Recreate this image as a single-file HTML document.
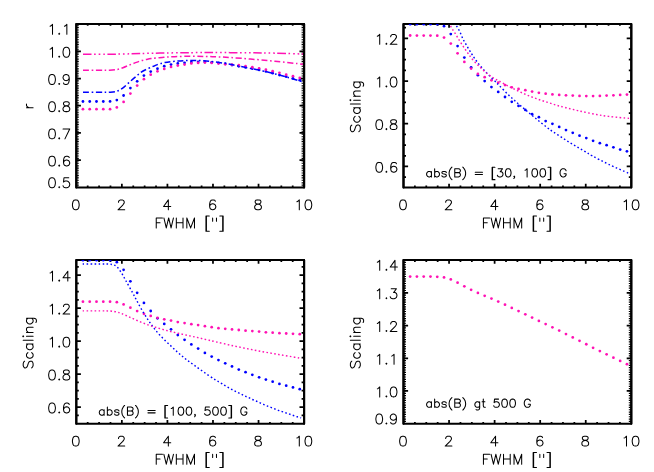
<!DOCTYPE html>
<html><head><meta charset="utf-8"><title>plot</title><style>html,body{margin:0;padding:0;background:#fff;font-family:"Liberation Sans",sans-serif}svg{display:block}</style></head><body>
<svg width="654" height="472" viewBox="0 0 654 472">
<rect width="654" height="472" fill="#fff"/>
<defs>
<clipPath id="c1"><rect x="76.30" y="24.05" width="227.80" height="163.35"/></clipPath>
<clipPath id="c2"><rect x="403.50" y="24.05" width="227.80" height="163.35"/></clipPath>
<clipPath id="c3"><rect x="76.30" y="260.10" width="227.80" height="163.60"/></clipPath>
<clipPath id="c4"><rect x="403.50" y="260.10" width="227.80" height="163.60"/></clipPath>
</defs>
<path d="M87.69 187.40V185.60M87.69 24.05V25.85M99.08 187.40V185.60M99.08 24.05V25.85M110.47 187.40V185.60M110.47 24.05V25.85M121.86 187.40V183.75M121.86 24.05V27.70M133.25 187.40V185.60M133.25 24.05V25.85M144.64 187.40V185.60M144.64 24.05V25.85M156.03 187.40V185.60M156.03 24.05V25.85M167.42 187.40V183.75M167.42 24.05V27.70M178.81 187.40V185.60M178.81 24.05V25.85M190.20 187.40V185.60M190.20 24.05V25.85M201.59 187.40V185.60M201.59 24.05V25.85M212.98 187.40V183.75M212.98 24.05V27.70M224.37 187.40V185.60M224.37 24.05V25.85M235.76 187.40V185.60M235.76 24.05V25.85M247.15 187.40V185.60M247.15 24.05V25.85M258.54 187.40V183.75M258.54 24.05V27.70M269.93 187.40V185.60M269.93 24.05V25.85M281.32 187.40V185.60M281.32 24.05V25.85M292.71 187.40V185.60M292.71 24.05V25.85M76.30 51.27H80.90M304.10 51.27H299.50M76.30 78.50H80.90M304.10 78.50H299.50M76.30 105.72H80.90M304.10 105.72H299.50M76.30 132.95H80.90M304.10 132.95H299.50M76.30 160.18H80.90M304.10 160.18H299.50" fill="none" stroke="#000" stroke-width="1.75"/>
<path d="M77.55 24.05V187.40M302.85 24.05V187.40" fill="none" stroke="#000" stroke-width="2.50" stroke-dasharray="0.851 0.851" stroke-dashoffset="0.425"/>
<rect x="76.30" y="24.05" width="227.80" height="163.35" fill="none" stroke="#000" stroke-width="2.00" stroke-linejoin="round"/>
<path d="M76.30 24.05V187.40M304.10 24.05V187.40" fill="none" stroke="#000" stroke-width="2.10" stroke-linecap="round"/>
<path d="M75.32 199.89L73.89 200.36L72.93 201.78L72.45 204.14L72.45 205.55L72.93 207.91L73.89 209.33L75.32 209.80L76.28 209.80L77.71 209.33L78.67 207.91L79.15 205.55L79.15 204.14L78.67 201.78L77.71 200.36L76.28 199.89L75.32 199.89" fill="none" stroke="#000" stroke-width="1.03" stroke-linecap="round" stroke-linejoin="round"/>
<path d="M118.49 202.25L118.49 201.78L118.97 200.83L119.45 200.36L120.40 199.89L122.32 199.89L123.27 200.36L123.75 200.83L124.23 201.78L124.23 202.72L123.75 203.66L122.79 205.08L118.01 209.80L124.71 209.80" fill="none" stroke="#000" stroke-width="1.03" stroke-linecap="round" stroke-linejoin="round"/>
<path d="M168.35 199.89L163.57 206.50L170.74 206.50M168.35 199.89L168.35 209.80" fill="none" stroke="#000" stroke-width="1.03" stroke-linecap="round" stroke-linejoin="round"/>
<path d="M215.35 201.30L214.87 200.36L213.44 199.89L212.48 199.89L211.05 200.36L210.09 201.78L209.61 204.14L209.61 206.50L210.09 208.38L211.05 209.33L212.48 209.80L212.96 209.80L214.39 209.33L215.35 208.38L215.83 206.97L215.83 206.50L215.35 205.08L214.39 204.14L212.96 203.66L212.48 203.66L211.05 204.14L210.09 205.08L209.61 206.50" fill="none" stroke="#000" stroke-width="1.03" stroke-linecap="round" stroke-linejoin="round"/>
<path d="M257.08 199.89L255.65 200.36L255.17 201.30L255.17 202.25L255.65 203.19L256.61 203.66L258.52 204.14L259.95 204.61L260.91 205.55L261.39 206.50L261.39 207.91L260.91 208.86L260.43 209.33L259.00 209.80L257.08 209.80L255.65 209.33L255.17 208.86L254.69 207.91L254.69 206.50L255.17 205.55L256.13 204.61L257.56 204.14L259.47 203.66L260.43 203.19L260.91 202.25L260.91 201.30L260.43 200.36L259.00 199.89L257.08 199.89" fill="none" stroke="#000" stroke-width="1.03" stroke-linecap="round" stroke-linejoin="round"/>
<path d="M296.91 201.78L297.86 201.30L299.30 199.89L299.30 209.80M307.90 199.89L306.47 200.36L305.51 201.78L305.03 204.14L305.03 205.55L305.51 207.91L306.47 209.33L307.90 209.80L308.86 209.80L310.29 209.33L311.25 207.91L311.73 205.55L311.73 204.14L311.25 201.78L310.29 200.36L308.86 199.89L307.90 199.89" fill="none" stroke="#000" stroke-width="1.03" stroke-linecap="round" stroke-linejoin="round"/>
<path d="M156.24 217.99L156.24 227.90M156.24 217.99L162.45 217.99M156.24 222.71L160.06 222.71M163.89 217.99L166.28 227.90M168.67 217.99L166.28 227.90M168.67 217.99L171.06 227.90M173.45 217.99L171.06 227.90M176.32 217.99L176.32 227.90M183.01 217.99L183.01 227.90M176.32 222.71L183.01 222.71M186.83 217.99L186.83 227.90M186.83 217.99L190.66 227.90M194.48 217.99L190.66 227.90M194.48 217.99L194.48 227.90M205.95 216.10L205.95 231.20M206.43 216.10L206.43 231.20M205.95 216.10L209.30 216.10M205.95 231.20L209.30 231.20M212.64 217.99L212.64 221.29M216.47 217.99L216.47 221.29M222.68 216.10L222.68 231.20M223.16 216.10L223.16 231.20M219.81 216.10L223.16 216.10M219.81 231.20L223.16 231.20" fill="none" stroke="#000" stroke-width="1.03" stroke-linecap="round" stroke-linejoin="round"/>
<path d="M50.12 26.24L51.07 25.77L52.51 24.35L52.51 34.26M59.20 33.32L58.72 33.79L59.20 34.26L59.68 33.79L59.20 33.32M64.46 26.24L65.41 25.77L66.85 24.35L66.85 34.26" fill="none" stroke="#000" stroke-width="1.03" stroke-linecap="round" stroke-linejoin="round"/>
<path d="M50.12 49.15L51.07 48.68L52.51 47.26L52.51 57.17M59.20 56.23L58.72 56.70L59.20 57.17L59.68 56.70L59.20 56.23M65.89 47.26L64.46 47.73L63.50 49.15L63.02 51.51L63.02 52.93L63.50 55.29L64.46 56.70L65.89 57.17L66.85 57.17L68.28 56.70L69.24 55.29L69.72 52.93L69.72 51.51L69.24 49.15L68.28 47.73L66.85 47.26L65.89 47.26" fill="none" stroke="#000" stroke-width="1.03" stroke-linecap="round" stroke-linejoin="round"/>
<path d="M51.55 74.49L50.12 74.96L49.16 76.38L48.68 78.74L48.68 80.15L49.16 82.51L50.12 83.93L51.55 84.40L52.51 84.40L53.94 83.93L54.90 82.51L55.38 80.15L55.38 78.74L54.90 76.38L53.94 74.96L52.51 74.49L51.55 74.49M59.20 83.46L58.72 83.93L59.20 84.40L59.68 83.93L59.20 83.46M69.24 77.79L68.76 79.21L67.80 80.15L66.37 80.62L65.89 80.62L64.46 80.15L63.50 79.21L63.02 77.79L63.02 77.32L63.50 75.90L64.46 74.96L65.89 74.49L66.37 74.49L67.80 74.96L68.76 75.90L69.24 77.79L69.24 80.15L68.76 82.51L67.80 83.93L66.37 84.40L65.41 84.40L63.98 83.93L63.50 82.98" fill="none" stroke="#000" stroke-width="1.03" stroke-linecap="round" stroke-linejoin="round"/>
<path d="M51.55 101.71L50.12 102.19L49.16 103.60L48.68 105.96L48.68 107.38L49.16 109.74L50.12 111.15L51.55 111.62L52.51 111.62L53.94 111.15L54.90 109.74L55.38 107.38L55.38 105.96L54.90 103.60L53.94 102.19L52.51 101.71L51.55 101.71M59.20 110.68L58.72 111.15L59.20 111.62L59.68 111.15L59.20 110.68M65.41 101.71L63.98 102.19L63.50 103.13L63.50 104.07L63.98 105.02L64.94 105.49L66.85 105.96L68.28 106.43L69.24 107.38L69.72 108.32L69.72 109.74L69.24 110.68L68.76 111.15L67.33 111.62L65.41 111.62L63.98 111.15L63.50 110.68L63.02 109.74L63.02 108.32L63.50 107.38L64.46 106.43L65.89 105.96L67.80 105.49L68.76 105.02L69.24 104.07L69.24 103.13L68.76 102.19L67.33 101.71L65.41 101.71" fill="none" stroke="#000" stroke-width="1.03" stroke-linecap="round" stroke-linejoin="round"/>
<path d="M51.55 128.94L50.12 129.41L49.16 130.83L48.68 133.19L48.68 134.60L49.16 136.96L50.12 138.38L51.55 138.85L52.51 138.85L53.94 138.38L54.90 136.96L55.38 134.60L55.38 133.19L54.90 130.83L53.94 129.41L52.51 128.94L51.55 128.94M59.20 137.91L58.72 138.38L59.20 138.85L59.68 138.38L59.20 137.91M69.72 128.94L64.94 138.85M63.02 128.94L69.72 128.94" fill="none" stroke="#000" stroke-width="1.03" stroke-linecap="round" stroke-linejoin="round"/>
<path d="M51.55 156.16L50.12 156.64L49.16 158.05L48.68 160.41L48.68 161.83L49.16 164.19L50.12 165.60L51.55 166.08L52.51 166.08L53.94 165.60L54.90 164.19L55.38 161.83L55.38 160.41L54.90 158.05L53.94 156.64L52.51 156.16L51.55 156.16M59.20 165.13L58.72 165.60L59.20 166.08L59.68 165.60L59.20 165.13M69.24 157.58L68.76 156.64L67.33 156.16L66.37 156.16L64.94 156.64L63.98 158.05L63.50 160.41L63.50 162.77L63.98 164.66L64.94 165.60L66.37 166.08L66.85 166.08L68.28 165.60L69.24 164.66L69.72 163.24L69.72 162.77L69.24 161.36L68.28 160.41L66.85 159.94L66.37 159.94L64.94 160.41L63.98 161.36L63.50 162.77" fill="none" stroke="#000" stroke-width="1.03" stroke-linecap="round" stroke-linejoin="round"/>
<path d="M51.55 177.79L50.12 178.26L49.16 179.68L48.68 182.04L48.68 183.45L49.16 185.81L50.12 187.23L51.55 187.70L52.51 187.70L53.94 187.23L54.90 185.81L55.38 183.45L55.38 182.04L54.90 179.68L53.94 178.26L52.51 177.79L51.55 177.79M59.20 186.76L58.72 187.23L59.20 187.70L59.68 187.23L59.20 186.76M68.76 177.79L63.98 177.79L63.50 182.04L63.98 181.56L65.41 181.09L66.85 181.09L68.28 181.56L69.24 182.51L69.72 183.92L69.72 184.87L69.24 186.28L68.28 187.23L66.85 187.70L65.41 187.70L63.98 187.23L63.50 186.76L63.02 185.81" fill="none" stroke="#000" stroke-width="1.03" stroke-linecap="round" stroke-linejoin="round"/>
<path d="M26.49 107.82L33.10 107.82M29.32 107.82L27.91 107.34L26.96 106.39L26.49 105.43L26.49 104.00" fill="none" stroke="#000" stroke-width="1.03" stroke-linecap="round" stroke-linejoin="round"/>
<g fill="#0000ff"><circle cx="82.95" cy="101.50" r="1.38"/><circle cx="89.73" cy="101.50" r="1.38"/><circle cx="96.50" cy="101.50" r="1.38"/><circle cx="103.28" cy="101.50" r="1.38"/><circle cx="110.05" cy="101.49" r="1.38"/><circle cx="116.83" cy="100.02" r="1.38"/><circle cx="123.60" cy="95.50" r="1.38"/><circle cx="130.38" cy="88.12" r="1.38"/><circle cx="137.15" cy="81.26" r="1.38"/><circle cx="143.93" cy="75.53" r="1.38"/><circle cx="150.70" cy="71.56" r="1.38"/><circle cx="157.48" cy="68.65" r="1.38"/><circle cx="164.25" cy="66.22" r="1.38"/><circle cx="171.03" cy="64.60" r="1.38"/><circle cx="177.80" cy="63.50" r="1.38"/><circle cx="184.57" cy="62.79" r="1.38"/><circle cx="191.35" cy="62.10" r="1.38"/><circle cx="198.12" cy="61.90" r="1.38"/><circle cx="204.90" cy="61.91" r="1.38"/><circle cx="211.68" cy="62.32" r="1.38"/><circle cx="218.45" cy="62.92" r="1.38"/><circle cx="225.23" cy="63.75" r="1.38"/><circle cx="232.00" cy="65.09" r="1.38"/><circle cx="238.78" cy="66.29" r="1.38"/><circle cx="245.55" cy="67.39" r="1.38"/><circle cx="252.32" cy="68.68" r="1.38"/><circle cx="259.10" cy="69.96" r="1.38"/><circle cx="265.88" cy="71.42" r="1.38"/><circle cx="272.65" cy="73.24" r="1.38"/><circle cx="279.43" cy="75.05" r="1.38"/><circle cx="286.20" cy="76.65" r="1.38"/><circle cx="292.98" cy="78.47" r="1.38"/><circle cx="299.75" cy="80.14" r="1.38"/></g>
<g fill="#ff12b4"><circle cx="82.95" cy="109.20" r="1.38"/><circle cx="89.73" cy="109.20" r="1.38"/><circle cx="96.50" cy="109.20" r="1.38"/><circle cx="103.28" cy="109.20" r="1.38"/><circle cx="110.05" cy="109.19" r="1.38"/><circle cx="116.83" cy="107.40" r="1.38"/><circle cx="123.60" cy="101.90" r="1.38"/><circle cx="130.38" cy="93.51" r="1.38"/><circle cx="137.15" cy="85.55" r="1.38"/><circle cx="143.93" cy="79.22" r="1.38"/><circle cx="150.70" cy="74.65" r="1.38"/><circle cx="157.48" cy="71.36" r="1.38"/><circle cx="164.25" cy="68.92" r="1.38"/><circle cx="171.03" cy="66.99" r="1.38"/><circle cx="177.80" cy="65.60" r="1.38"/><circle cx="184.57" cy="64.59" r="1.38"/><circle cx="191.35" cy="63.49" r="1.38"/><circle cx="198.12" cy="62.89" r="1.38"/><circle cx="204.90" cy="62.51" r="1.38"/><circle cx="211.68" cy="62.92" r="1.38"/><circle cx="218.45" cy="63.52" r="1.38"/><circle cx="225.23" cy="64.31" r="1.38"/><circle cx="232.00" cy="64.73" r="1.38"/><circle cx="238.78" cy="65.21" r="1.38"/><circle cx="245.55" cy="66.21" r="1.38"/><circle cx="252.32" cy="67.25" r="1.38"/><circle cx="259.10" cy="68.36" r="1.38"/><circle cx="265.88" cy="69.72" r="1.38"/><circle cx="272.65" cy="71.24" r="1.38"/><circle cx="279.43" cy="72.86" r="1.38"/><circle cx="286.20" cy="74.64" r="1.38"/><circle cx="292.98" cy="76.18" r="1.38"/><circle cx="299.75" cy="78.00" r="1.38"/></g>
<path d="M83.00 92.30C85.83 92.30 95.57 92.32 100.00 92.30C104.43 92.28 106.77 92.38 109.60 92.20C112.43 92.02 114.77 91.93 117.00 91.20C119.23 90.47 121.02 89.23 123.00 87.80C124.98 86.37 126.92 84.33 128.90 82.60C130.88 80.87 132.92 79.08 134.90 77.40C136.88 75.72 138.83 73.87 140.80 72.50C142.77 71.13 144.60 70.23 146.70 69.20C148.80 68.17 151.63 67.07 153.40 66.30C155.17 65.53 155.42 65.22 157.30 64.60C159.18 63.98 161.83 63.15 164.70 62.60C167.57 62.05 171.23 61.63 174.50 61.30C177.77 60.97 181.05 60.75 184.30 60.60C187.55 60.45 190.75 60.38 194.00 60.40C197.25 60.42 200.53 60.48 203.80 60.70C207.07 60.92 210.33 61.30 213.60 61.70C216.87 62.10 220.67 62.68 223.40 63.10C226.13 63.52 227.53 63.72 230.00 64.20C232.47 64.68 234.78 65.30 238.20 66.00C241.62 66.70 246.42 67.58 250.50 68.40C254.58 69.22 258.63 69.98 262.70 70.90C266.77 71.82 270.82 72.85 274.90 73.90C278.98 74.95 283.12 76.03 287.20 77.20C291.28 78.37 296.77 80.10 299.40 80.90C302.03 81.70 302.40 81.82 303.00 82.00" fill="none" stroke="#0000ff" stroke-width="1.50" stroke-dasharray="6.0 2.65 1.6 2.65" stroke-dashoffset="0.00"/>
<path d="M83.00 70.20C85.83 70.20 95.57 70.18 100.00 70.20C104.43 70.22 106.77 70.42 109.60 70.30C112.43 70.18 114.77 69.93 117.00 69.50C119.23 69.07 121.02 68.42 123.00 67.70C124.98 66.98 126.92 66.00 128.90 65.20C130.88 64.40 132.92 63.63 134.90 62.90C136.88 62.17 138.83 61.38 140.80 60.80C142.77 60.22 144.97 59.77 146.70 59.40C148.43 59.03 148.62 58.92 151.20 58.60C153.78 58.28 158.32 57.78 162.20 57.45C166.08 57.12 169.80 56.84 174.50 56.65C179.20 56.46 185.32 56.32 190.40 56.30C195.48 56.27 200.52 56.41 205.00 56.50C209.48 56.59 213.13 56.68 217.30 56.85C221.47 57.02 224.47 57.13 230.00 57.50C235.53 57.87 243.02 58.43 250.50 59.05C257.98 59.67 266.15 60.34 274.90 61.20C283.65 62.06 298.32 63.70 303.00 64.20" fill="none" stroke="#ff12b4" stroke-width="1.50" stroke-dasharray="6.0 2.65 1.6 2.65" stroke-dashoffset="0.00"/>
<path d="M83.00 54.30C86.67 54.30 98.33 54.35 105.00 54.30C111.67 54.25 117.17 54.12 123.00 54.00C128.83 53.88 133.83 53.70 140.00 53.55C146.17 53.40 151.67 53.25 160.00 53.10C168.33 52.95 180.00 52.73 190.00 52.65C200.00 52.57 210.00 52.58 220.00 52.60C230.00 52.62 240.83 52.66 250.00 52.75C259.17 52.84 266.17 52.94 275.00 53.15C283.83 53.36 298.33 53.86 303.00 54.00" fill="none" stroke="#ff12b4" stroke-width="1.50" stroke-dasharray="8.6 2.5 1.6 2.95 1.6 2.95 1.6 2.5" stroke-dashoffset="0.00"/>
<path d="M414.89 187.40V185.60M414.89 24.05V25.85M426.28 187.40V185.60M426.28 24.05V25.85M437.67 187.40V185.60M437.67 24.05V25.85M449.06 187.40V183.75M449.06 24.05V27.70M460.45 187.40V185.60M460.45 24.05V25.85M471.84 187.40V185.60M471.84 24.05V25.85M483.23 187.40V185.60M483.23 24.05V25.85M494.62 187.40V183.75M494.62 24.05V27.70M506.01 187.40V185.60M506.01 24.05V25.85M517.40 187.40V185.60M517.40 24.05V25.85M528.79 187.40V185.60M528.79 24.05V25.85M540.18 187.40V183.75M540.18 24.05V27.70M551.57 187.40V185.60M551.57 24.05V25.85M562.96 187.40V185.60M562.96 24.05V25.85M574.35 187.40V185.60M574.35 24.05V25.85M585.74 187.40V183.75M585.74 24.05V27.70M597.13 187.40V185.60M597.13 24.05V25.85M608.52 187.40V185.60M608.52 24.05V25.85M619.91 187.40V185.60M619.91 24.05V25.85M403.50 38.40H408.10M631.30 38.40H626.70M403.50 81.00H408.10M631.30 81.00H626.70M403.50 123.70H408.10M631.30 123.70H626.70M403.50 166.40H408.10M631.30 166.40H626.70M403.50 27.73H406.00M631.30 27.73H628.80M403.50 49.07H406.00M631.30 49.07H628.80M403.50 59.74H406.00M631.30 59.74H628.80M403.50 70.41H406.00M631.30 70.41H628.80M403.50 91.75H406.00M631.30 91.75H628.80M403.50 102.42H406.00M631.30 102.42H628.80M403.50 113.09H406.00M631.30 113.09H628.80M403.50 134.43H406.00M631.30 134.43H628.80M403.50 145.10H406.00M631.30 145.10H628.80M403.50 155.77H406.00M631.30 155.77H628.80M403.50 177.11H406.00M631.30 177.11H628.80" fill="none" stroke="#000" stroke-width="1.75"/>
<rect x="403.50" y="24.05" width="227.80" height="163.35" fill="none" stroke="#000" stroke-width="2.00" stroke-linejoin="round"/>
<path d="M403.50 24.05V187.40M631.30 24.05V187.40" fill="none" stroke="#000" stroke-width="2.10" stroke-linecap="round"/>
<path d="M402.52 199.89L401.09 200.36L400.13 201.78L399.65 204.14L399.65 205.55L400.13 207.91L401.09 209.33L402.52 209.80L403.48 209.80L404.91 209.33L405.87 207.91L406.35 205.55L406.35 204.14L405.87 201.78L404.91 200.36L403.48 199.89L402.52 199.89" fill="none" stroke="#000" stroke-width="1.03" stroke-linecap="round" stroke-linejoin="round"/>
<path d="M445.69 202.25L445.69 201.78L446.17 200.83L446.65 200.36L447.60 199.89L449.52 199.89L450.47 200.36L450.95 200.83L451.43 201.78L451.43 202.72L450.95 203.66L449.99 205.08L445.21 209.80L451.91 209.80" fill="none" stroke="#000" stroke-width="1.03" stroke-linecap="round" stroke-linejoin="round"/>
<path d="M495.55 199.89L490.77 206.50L497.94 206.50M495.55 199.89L495.55 209.80" fill="none" stroke="#000" stroke-width="1.03" stroke-linecap="round" stroke-linejoin="round"/>
<path d="M542.55 201.30L542.07 200.36L540.64 199.89L539.68 199.89L538.25 200.36L537.29 201.78L536.81 204.14L536.81 206.50L537.29 208.38L538.25 209.33L539.68 209.80L540.16 209.80L541.59 209.33L542.55 208.38L543.03 206.97L543.03 206.50L542.55 205.08L541.59 204.14L540.16 203.66L539.68 203.66L538.25 204.14L537.29 205.08L536.81 206.50" fill="none" stroke="#000" stroke-width="1.03" stroke-linecap="round" stroke-linejoin="round"/>
<path d="M584.28 199.89L582.85 200.36L582.37 201.30L582.37 202.25L582.85 203.19L583.81 203.66L585.72 204.14L587.15 204.61L588.11 205.55L588.59 206.50L588.59 207.91L588.11 208.86L587.63 209.33L586.20 209.80L584.28 209.80L582.85 209.33L582.37 208.86L581.89 207.91L581.89 206.50L582.37 205.55L583.33 204.61L584.76 204.14L586.67 203.66L587.63 203.19L588.11 202.25L588.11 201.30L587.63 200.36L586.20 199.89L584.28 199.89" fill="none" stroke="#000" stroke-width="1.03" stroke-linecap="round" stroke-linejoin="round"/>
<path d="M624.11 201.78L625.06 201.30L626.50 199.89L626.50 209.80M635.10 199.89L633.67 200.36L632.71 201.78L632.23 204.14L632.23 205.55L632.71 207.91L633.67 209.33L635.10 209.80L636.06 209.80L637.49 209.33L638.45 207.91L638.93 205.55L638.93 204.14L638.45 201.78L637.49 200.36L636.06 199.89L635.10 199.89" fill="none" stroke="#000" stroke-width="1.03" stroke-linecap="round" stroke-linejoin="round"/>
<path d="M483.44 217.99L483.44 227.90M483.44 217.99L489.65 217.99M483.44 222.71L487.26 222.71M491.09 217.99L493.48 227.90M495.87 217.99L493.48 227.90M495.87 217.99L498.26 227.90M500.65 217.99L498.26 227.90M503.52 217.99L503.52 227.90M510.21 217.99L510.21 227.90M503.52 222.71L510.21 222.71M514.03 217.99L514.03 227.90M514.03 217.99L517.86 227.90M521.68 217.99L517.86 227.90M521.68 217.99L521.68 227.90M533.15 216.10L533.15 231.20M533.63 216.10L533.63 231.20M533.15 216.10L536.50 216.10M533.15 231.20L536.50 231.20M539.84 217.99L539.84 221.29M543.67 217.99L543.67 221.29M549.88 216.10L549.88 231.20M550.36 216.10L550.36 231.20M547.01 216.10L550.36 216.10M547.01 231.20L550.36 231.20" fill="none" stroke="#000" stroke-width="1.03" stroke-linecap="round" stroke-linejoin="round"/>
<path d="M377.32 36.28L378.27 35.80L379.71 34.39L379.71 44.30M386.40 43.36L385.92 43.83L386.40 44.30L386.88 43.83L386.40 43.36M390.70 36.75L390.70 36.28L391.18 35.33L391.66 34.86L392.61 34.39L394.53 34.39L395.48 34.86L395.96 35.33L396.44 36.28L396.44 37.22L395.96 38.16L395.00 39.58L390.22 44.30L396.92 44.30" fill="none" stroke="#000" stroke-width="1.03" stroke-linecap="round" stroke-linejoin="round"/>
<path d="M377.32 78.88L378.27 78.40L379.71 76.99L379.71 86.90M386.40 85.96L385.92 86.43L386.40 86.90L386.88 86.43L386.40 85.96M393.09 76.99L391.66 77.46L390.70 78.88L390.22 81.24L390.22 82.65L390.70 85.01L391.66 86.43L393.09 86.90L394.05 86.90L395.48 86.43L396.44 85.01L396.92 82.65L396.92 81.24L396.44 78.88L395.48 77.46L394.05 76.99L393.09 76.99" fill="none" stroke="#000" stroke-width="1.03" stroke-linecap="round" stroke-linejoin="round"/>
<path d="M378.75 119.69L377.32 120.16L376.36 121.58L375.88 123.94L375.88 125.35L376.36 127.71L377.32 129.13L378.75 129.60L379.71 129.60L381.14 129.13L382.10 127.71L382.58 125.35L382.58 123.94L382.10 121.58L381.14 120.16L379.71 119.69L378.75 119.69M386.40 128.66L385.92 129.13L386.40 129.60L386.88 129.13L386.40 128.66M392.61 119.69L391.18 120.16L390.70 121.10L390.70 122.05L391.18 122.99L392.14 123.46L394.05 123.94L395.48 124.41L396.44 125.35L396.92 126.30L396.92 127.71L396.44 128.66L395.96 129.13L394.53 129.60L392.61 129.60L391.18 129.13L390.70 128.66L390.22 127.71L390.22 126.30L390.70 125.35L391.66 124.41L393.09 123.94L395.00 123.46L395.96 122.99L396.44 122.05L396.44 121.10L395.96 120.16L394.53 119.69L392.61 119.69" fill="none" stroke="#000" stroke-width="1.03" stroke-linecap="round" stroke-linejoin="round"/>
<path d="M378.75 162.39L377.32 162.86L376.36 164.28L375.88 166.64L375.88 168.05L376.36 170.41L377.32 171.83L378.75 172.30L379.71 172.30L381.14 171.83L382.10 170.41L382.58 168.05L382.58 166.64L382.10 164.28L381.14 162.86L379.71 162.39L378.75 162.39M386.40 171.36L385.92 171.83L386.40 172.30L386.88 171.83L386.40 171.36M396.44 163.80L395.96 162.86L394.53 162.39L393.57 162.39L392.14 162.86L391.18 164.28L390.70 166.64L390.70 169.00L391.18 170.88L392.14 171.83L393.57 172.30L394.05 172.30L395.48 171.83L396.44 170.88L396.92 169.47L396.92 169.00L396.44 167.58L395.48 166.64L394.05 166.16L393.57 166.16L392.14 166.64L391.18 167.58L390.70 169.00" fill="none" stroke="#000" stroke-width="1.03" stroke-linecap="round" stroke-linejoin="round"/>
<path d="M351.80 125.03L350.86 125.98L350.39 127.42L350.39 129.33L350.86 130.76L351.80 131.72L352.75 131.72L353.69 131.24L354.16 130.76L354.64 129.81L355.58 126.94L356.05 125.98L356.52 125.51L357.47 125.03L358.88 125.03L359.83 125.98L360.30 127.42L360.30 129.33L359.83 130.76L358.88 131.72M355.11 116.42L354.16 117.38L353.69 118.34L353.69 119.77L354.16 120.73L355.11 121.68L356.52 122.16L357.47 122.16L358.88 121.68L359.83 120.73L360.30 119.77L360.30 118.34L359.83 117.38L358.88 116.42M353.69 107.82L360.30 107.82M355.11 107.82L354.16 108.78L353.69 109.73L353.69 111.17L354.16 112.12L355.11 113.08L356.52 113.56L357.47 113.56L358.88 113.08L359.83 112.12L360.30 111.17L360.30 109.73L359.83 108.78L358.88 107.82M350.39 104.00L360.30 104.00M350.39 100.65L350.86 100.17L350.39 99.69L349.92 100.17L350.39 100.65M353.69 100.17L360.30 100.17M353.69 96.35L360.30 96.35M355.58 96.35L354.16 94.91L353.69 93.96L353.69 92.52L354.16 91.57L355.58 91.09L360.30 91.09M353.69 82.01L361.24 82.01L362.66 82.49L363.13 82.96L363.60 83.92L363.60 85.35L363.13 86.31M355.11 82.01L354.16 82.96L353.69 83.92L353.69 85.35L354.16 86.31L355.11 87.27L356.52 87.74L357.47 87.74L358.88 87.27L359.83 86.31L360.30 85.35L360.30 83.92L359.83 82.96L358.88 82.01" fill="none" stroke="#000" stroke-width="1.03" stroke-linecap="round" stroke-linejoin="round"/>
<g fill="#0000ff" clip-path="url(#c2)"><circle cx="410.15" cy="24.20" r="1.38"/><circle cx="416.92" cy="24.20" r="1.38"/><circle cx="423.70" cy="24.20" r="1.38"/><circle cx="430.47" cy="24.20" r="1.38"/><circle cx="437.25" cy="24.21" r="1.38"/><circle cx="444.02" cy="26.23" r="1.38"/><circle cx="450.80" cy="34.08" r="1.38"/><circle cx="457.57" cy="46.06" r="1.38"/><circle cx="464.35" cy="57.61" r="1.38"/><circle cx="471.12" cy="67.33" r="1.38"/><circle cx="477.90" cy="75.20" r="1.38"/><circle cx="484.67" cy="81.07" r="1.38"/><circle cx="491.45" cy="87.11" r="1.38"/><circle cx="498.22" cy="91.89" r="1.38"/><circle cx="505.00" cy="97.00" r="1.38"/><circle cx="511.77" cy="101.81" r="1.38"/><circle cx="518.55" cy="105.89" r="1.38"/><circle cx="525.33" cy="109.88" r="1.38"/><circle cx="532.10" cy="114.15" r="1.38"/><circle cx="538.88" cy="117.24" r="1.38"/><circle cx="545.65" cy="121.06" r="1.38"/><circle cx="552.42" cy="123.86" r="1.38"/><circle cx="559.20" cy="126.95" r="1.38"/><circle cx="565.98" cy="130.07" r="1.38"/><circle cx="572.75" cy="132.82" r="1.38"/><circle cx="579.52" cy="135.68" r="1.38"/><circle cx="586.30" cy="138.04" r="1.38"/><circle cx="593.08" cy="140.76" r="1.38"/><circle cx="599.85" cy="143.15" r="1.38"/><circle cx="606.62" cy="145.24" r="1.38"/><circle cx="613.40" cy="147.30" r="1.38"/><circle cx="620.17" cy="149.55" r="1.38"/><circle cx="626.95" cy="151.30" r="1.38"/></g>
<g fill="#ff12b4"><circle cx="410.15" cy="35.50" r="1.38"/><circle cx="416.92" cy="35.53" r="1.38"/><circle cx="423.70" cy="35.55" r="1.38"/><circle cx="430.47" cy="35.58" r="1.38"/><circle cx="437.25" cy="35.67" r="1.38"/><circle cx="444.02" cy="37.52" r="1.38"/><circle cx="450.80" cy="43.61" r="1.38"/><circle cx="457.57" cy="53.26" r="1.38"/><circle cx="464.35" cy="61.94" r="1.38"/><circle cx="471.12" cy="68.52" r="1.38"/><circle cx="477.90" cy="73.90" r="1.38"/><circle cx="484.67" cy="77.23" r="1.38"/><circle cx="491.45" cy="80.26" r="1.38"/><circle cx="498.22" cy="82.74" r="1.38"/><circle cx="505.00" cy="85.10" r="1.38"/><circle cx="511.77" cy="87.34" r="1.38"/><circle cx="518.55" cy="88.93" r="1.38"/><circle cx="525.33" cy="90.22" r="1.38"/><circle cx="532.10" cy="91.52" r="1.38"/><circle cx="538.88" cy="92.81" r="1.38"/><circle cx="545.65" cy="93.72" r="1.38"/><circle cx="552.42" cy="94.41" r="1.38"/><circle cx="559.20" cy="94.91" r="1.38"/><circle cx="565.98" cy="95.31" r="1.38"/><circle cx="572.75" cy="95.60" r="1.38"/><circle cx="579.52" cy="95.91" r="1.38"/><circle cx="586.30" cy="96.10" r="1.38"/><circle cx="593.08" cy="96.09" r="1.38"/><circle cx="599.85" cy="95.89" r="1.38"/><circle cx="606.62" cy="95.59" r="1.38"/><circle cx="613.40" cy="95.30" r="1.38"/><circle cx="620.17" cy="94.89" r="1.38"/><circle cx="626.95" cy="94.60" r="1.38"/></g>
<path d="M452.70 19.00C453.18 19.88 454.45 22.27 455.60 24.30C456.75 26.33 458.40 28.82 459.60 31.20C460.80 33.58 461.60 36.17 462.80 38.60C464.00 41.03 465.42 43.40 466.80 45.80C468.18 48.20 469.78 50.88 471.10 53.00C472.42 55.12 473.30 56.52 474.70 58.50C476.10 60.48 477.90 62.92 479.50 64.90C481.10 66.88 482.68 68.62 484.30 70.40C485.92 72.18 487.35 73.73 489.20 75.60C491.05 77.47 493.73 79.95 495.40 81.60C497.07 83.25 497.00 83.27 499.20 85.50C501.40 87.73 505.43 91.97 508.60 95.00C511.77 98.03 515.02 100.92 518.20 103.70C521.38 106.48 524.53 109.05 527.70 111.70C530.87 114.35 534.02 117.00 537.20 119.60C540.38 122.20 544.18 125.28 546.80 127.30C549.42 129.32 550.55 130.12 552.90 131.70C555.25 133.28 558.25 135.08 560.90 136.80C563.55 138.52 566.15 140.33 568.80 142.00C571.45 143.67 574.15 145.25 576.80 146.80C579.45 148.35 582.05 149.75 584.70 151.30C587.35 152.85 588.72 153.93 592.70 156.10C596.68 158.27 602.63 161.45 608.60 164.30C614.57 167.15 625.18 171.72 628.50 173.20" fill="none" stroke="#0000ff" stroke-width="1.42" stroke-dasharray="1.6 2.35" stroke-dashoffset="0.00" clip-path="url(#c2)"/>
<path d="M446.50 19.00C447.02 19.88 448.73 22.80 449.60 24.30C450.47 25.80 451.02 26.85 451.70 28.00C452.38 29.15 452.98 30.08 453.70 31.20C454.42 32.32 455.28 33.53 456.00 34.70C456.72 35.87 457.32 37.07 458.00 38.20C458.68 39.33 459.38 40.37 460.10 41.50C460.82 42.63 461.57 43.87 462.30 45.00C463.03 46.13 463.75 47.18 464.50 48.30C465.25 49.42 466.02 50.58 466.80 51.70C467.58 52.82 468.48 54.00 469.20 55.00C469.92 56.00 470.05 56.42 471.10 57.70C472.15 58.98 474.10 61.22 475.50 62.70C476.90 64.18 478.03 65.18 479.50 66.60C480.97 68.02 482.68 69.78 484.30 71.20C485.92 72.62 487.62 73.93 489.20 75.10C490.78 76.27 492.15 77.22 493.80 78.20C495.45 79.18 496.63 79.67 499.10 81.00C501.57 82.33 505.42 84.53 508.60 86.20C511.78 87.87 515.02 89.48 518.20 91.00C521.38 92.52 524.53 93.97 527.70 95.30C530.87 96.62 534.02 97.82 537.20 98.95C540.38 100.08 543.62 101.06 546.80 102.10C549.98 103.14 553.12 104.27 556.30 105.20C559.48 106.13 562.32 106.80 565.90 107.70C569.48 108.60 573.33 109.58 577.80 110.60C582.27 111.62 587.57 112.83 592.70 113.80C597.83 114.77 602.50 115.63 608.60 116.40C614.70 117.17 625.85 118.07 629.30 118.40" fill="none" stroke="#ff12b4" stroke-width="1.42" stroke-dasharray="1.6 2.35" stroke-dashoffset="0.00" clip-path="url(#c2)"/>
<path d="M431.43 171.44L431.43 176.90M431.43 172.61L430.63 171.83L429.82 171.44L428.62 171.44L427.81 171.83L427.01 172.61L426.61 173.78L426.61 174.56L427.01 175.73L427.81 176.51L428.62 176.90L429.82 176.90L430.63 176.51L431.43 175.73M434.65 168.71L434.65 176.90M434.65 172.61L435.45 171.83L436.25 171.44L437.46 171.44L438.26 171.83L439.07 172.61L439.47 173.78L439.47 174.56L439.07 175.73L438.26 176.51L437.46 176.90L436.25 176.90L435.45 176.51L434.65 175.73M446.30 172.61L445.90 171.83L444.70 171.44L443.49 171.44L442.28 171.83L441.88 172.61L442.28 173.39L443.09 173.78L445.10 174.17L445.90 174.56L446.30 175.34L446.30 175.73L445.90 176.51L444.70 176.90L443.49 176.90L442.28 176.51L441.88 175.73M451.93 167.15L451.13 167.93L450.32 169.10L449.52 170.66L449.12 172.61L449.12 174.17L449.52 176.12L450.32 177.68L451.13 178.85L451.93 179.63M454.75 168.71L454.75 176.90M454.75 168.71L458.36 168.71L459.57 169.10L459.97 169.49L460.37 170.27L460.37 171.05L459.97 171.83L459.57 172.22L458.36 172.61M454.75 172.61L458.36 172.61L459.57 173.00L459.97 173.39L460.37 174.17L460.37 175.34L459.97 176.12L459.57 176.51L458.36 176.90L454.75 176.90M462.79 167.15L463.59 167.93L464.39 169.10L465.20 170.66L465.60 172.61L465.60 174.17L465.20 176.12L464.39 177.68L463.59 178.85L462.79 179.63M475.25 172.22L482.48 172.22M475.25 174.56L482.48 174.56M492.13 167.15L492.13 179.63M492.53 167.15L492.53 179.63M492.13 167.15L494.95 167.15M492.13 179.63L494.95 179.63M498.16 168.71L502.58 168.71L500.17 171.83L501.38 171.83L502.18 172.22L502.58 172.61L502.99 173.78L502.99 174.56L502.58 175.73L501.78 176.51L500.57 176.90L499.37 176.90L498.16 176.51L497.76 176.12L497.36 175.34M507.81 168.71L506.60 169.10L505.80 170.27L505.40 172.22L505.40 173.39L505.80 175.34L506.60 176.51L507.81 176.90L508.61 176.90L509.82 176.51L510.62 175.34L511.03 173.39L511.03 172.22L510.62 170.27L509.82 169.10L508.61 168.71L507.81 168.71M514.64 176.51L514.24 176.90L513.84 176.51L514.24 176.12L514.64 176.51L514.64 177.29L514.24 178.07L513.84 178.46M525.10 170.27L525.90 169.88L527.11 168.71L527.11 176.90M534.34 168.71L533.14 169.10L532.33 170.27L531.93 172.22L531.93 173.39L532.33 175.34L533.14 176.51L534.34 176.90L535.15 176.90L536.35 176.51L537.16 175.34L537.56 173.39L537.56 172.22L537.16 170.27L536.35 169.10L535.15 168.71L534.34 168.71M542.38 168.71L541.18 169.10L540.37 170.27L539.97 172.22L539.97 173.39L540.37 175.34L541.18 176.51L542.38 176.90L543.19 176.90L544.39 176.51L545.20 175.34L545.60 173.39L545.60 172.22L545.20 170.27L544.39 169.10L543.19 168.71L542.38 168.71M550.42 167.15L550.42 179.63M550.82 167.15L550.82 179.63M548.01 167.15L550.82 167.15M548.01 179.63L550.82 179.63M566.10 170.66L565.70 169.88L564.89 169.10L564.09 168.71L562.48 168.71L561.68 169.10L560.87 169.88L560.47 170.66L560.07 171.83L560.07 173.78L560.47 174.95L560.87 175.73L561.68 176.51L562.48 176.90L564.09 176.90L564.89 176.51L565.70 175.73L566.10 174.95L566.10 173.78M564.09 173.78L566.10 173.78" fill="none" stroke="#000" stroke-width="1.05" stroke-linecap="round" stroke-linejoin="round"/>
<path d="M87.69 423.70V421.90M87.69 260.10V261.90M99.08 423.70V421.90M99.08 260.10V261.90M110.47 423.70V421.90M110.47 260.10V261.90M121.86 423.70V420.05M121.86 260.10V263.75M133.25 423.70V421.90M133.25 260.10V261.90M144.64 423.70V421.90M144.64 260.10V261.90M156.03 423.70V421.90M156.03 260.10V261.90M167.42 423.70V420.05M167.42 260.10V263.75M178.81 423.70V421.90M178.81 260.10V261.90M190.20 423.70V421.90M190.20 260.10V261.90M201.59 423.70V421.90M201.59 260.10V261.90M212.98 423.70V420.05M212.98 260.10V263.75M224.37 423.70V421.90M224.37 260.10V261.90M235.76 423.70V421.90M235.76 260.10V261.90M247.15 423.70V421.90M247.15 260.10V261.90M258.54 423.70V420.05M258.54 260.10V263.75M269.93 423.70V421.90M269.93 260.10V261.90M281.32 423.70V421.90M281.32 260.10V261.90M292.71 423.70V421.90M292.71 260.10V261.90M76.30 275.20H80.90M304.10 275.20H299.50M76.30 308.20H80.90M304.10 308.20H299.50M76.30 341.20H80.90M304.10 341.20H299.50M76.30 374.10H80.90M304.10 374.10H299.50M76.30 407.10H80.90M304.10 407.10H299.50M76.30 266.95H78.80M304.10 266.95H301.60M76.30 283.44H78.80M304.10 283.44H301.60M76.30 291.69H78.80M304.10 291.69H301.60M76.30 299.94H78.80M304.10 299.94H301.60M76.30 316.42H78.80M304.10 316.42H301.60M76.30 324.67H78.80M304.10 324.67H301.60M76.30 332.91H78.80M304.10 332.91H301.60M76.30 349.40H78.80M304.10 349.40H301.60M76.30 357.65H78.80M304.10 357.65H301.60M76.30 365.89H78.80M304.10 365.89H301.60M76.30 382.38H78.80M304.10 382.38H301.60M76.30 390.63H78.80M304.10 390.63H301.60M76.30 398.88H78.80M304.10 398.88H301.60M76.30 415.37H78.80M304.10 415.37H301.60" fill="none" stroke="#000" stroke-width="1.75"/>
<rect x="76.30" y="260.10" width="227.80" height="163.60" fill="none" stroke="#000" stroke-width="2.00" stroke-linejoin="round"/>
<path d="M76.30 260.10V423.70M304.10 260.10V423.70" fill="none" stroke="#000" stroke-width="2.10" stroke-linecap="round"/>
<path d="M75.32 436.19L73.89 436.66L72.93 438.08L72.45 440.44L72.45 441.85L72.93 444.21L73.89 445.63L75.32 446.10L76.28 446.10L77.71 445.63L78.67 444.21L79.15 441.85L79.15 440.44L78.67 438.08L77.71 436.66L76.28 436.19L75.32 436.19" fill="none" stroke="#000" stroke-width="1.03" stroke-linecap="round" stroke-linejoin="round"/>
<path d="M118.49 438.55L118.49 438.08L118.97 437.13L119.45 436.66L120.40 436.19L122.32 436.19L123.27 436.66L123.75 437.13L124.23 438.08L124.23 439.02L123.75 439.96L122.79 441.38L118.01 446.10L124.71 446.10" fill="none" stroke="#000" stroke-width="1.03" stroke-linecap="round" stroke-linejoin="round"/>
<path d="M168.35 436.19L163.57 442.80L170.74 442.80M168.35 436.19L168.35 446.10" fill="none" stroke="#000" stroke-width="1.03" stroke-linecap="round" stroke-linejoin="round"/>
<path d="M215.35 437.60L214.87 436.66L213.44 436.19L212.48 436.19L211.05 436.66L210.09 438.08L209.61 440.44L209.61 442.80L210.09 444.68L211.05 445.63L212.48 446.10L212.96 446.10L214.39 445.63L215.35 444.68L215.83 443.27L215.83 442.80L215.35 441.38L214.39 440.44L212.96 439.96L212.48 439.96L211.05 440.44L210.09 441.38L209.61 442.80" fill="none" stroke="#000" stroke-width="1.03" stroke-linecap="round" stroke-linejoin="round"/>
<path d="M257.08 436.19L255.65 436.66L255.17 437.60L255.17 438.55L255.65 439.49L256.61 439.96L258.52 440.44L259.95 440.91L260.91 441.85L261.39 442.80L261.39 444.21L260.91 445.16L260.43 445.63L259.00 446.10L257.08 446.10L255.65 445.63L255.17 445.16L254.69 444.21L254.69 442.80L255.17 441.85L256.13 440.91L257.56 440.44L259.47 439.96L260.43 439.49L260.91 438.55L260.91 437.60L260.43 436.66L259.00 436.19L257.08 436.19" fill="none" stroke="#000" stroke-width="1.03" stroke-linecap="round" stroke-linejoin="round"/>
<path d="M296.91 438.08L297.86 437.60L299.30 436.19L299.30 446.10M307.90 436.19L306.47 436.66L305.51 438.08L305.03 440.44L305.03 441.85L305.51 444.21L306.47 445.63L307.90 446.10L308.86 446.10L310.29 445.63L311.25 444.21L311.73 441.85L311.73 440.44L311.25 438.08L310.29 436.66L308.86 436.19L307.90 436.19" fill="none" stroke="#000" stroke-width="1.03" stroke-linecap="round" stroke-linejoin="round"/>
<path d="M156.24 454.29L156.24 464.20M156.24 454.29L162.45 454.29M156.24 459.01L160.06 459.01M163.89 454.29L166.28 464.20M168.67 454.29L166.28 464.20M168.67 454.29L171.06 464.20M173.45 454.29L171.06 464.20M176.32 454.29L176.32 464.20M183.01 454.29L183.01 464.20M176.32 459.01L183.01 459.01M186.83 454.29L186.83 464.20M186.83 454.29L190.66 464.20M194.48 454.29L190.66 464.20M194.48 454.29L194.48 464.20M205.95 452.40L205.95 467.50M206.43 452.40L206.43 467.50M205.95 452.40L209.30 452.40M205.95 467.50L209.30 467.50M212.64 454.29L212.64 457.59M216.47 454.29L216.47 457.59M222.68 452.40L222.68 467.50M223.16 452.40L223.16 467.50M219.81 452.40L223.16 452.40M219.81 467.50L223.16 467.50" fill="none" stroke="#000" stroke-width="1.03" stroke-linecap="round" stroke-linejoin="round"/>
<path d="M50.12 273.08L51.07 272.60L52.51 271.19L52.51 281.10M59.20 280.16L58.72 280.63L59.20 281.10L59.68 280.63L59.20 280.16M67.80 271.19L63.02 277.80L70.19 277.80M67.80 271.19L67.80 281.10" fill="none" stroke="#000" stroke-width="1.03" stroke-linecap="round" stroke-linejoin="round"/>
<path d="M50.12 306.08L51.07 305.60L52.51 304.19L52.51 314.10M59.20 313.16L58.72 313.63L59.20 314.10L59.68 313.63L59.20 313.16M63.50 306.55L63.50 306.08L63.98 305.13L64.46 304.66L65.41 304.19L67.33 304.19L68.28 304.66L68.76 305.13L69.24 306.08L69.24 307.02L68.76 307.96L67.80 309.38L63.02 314.10L69.72 314.10" fill="none" stroke="#000" stroke-width="1.03" stroke-linecap="round" stroke-linejoin="round"/>
<path d="M50.12 339.08L51.07 338.60L52.51 337.19L52.51 347.10M59.20 346.16L58.72 346.63L59.20 347.10L59.68 346.63L59.20 346.16M65.89 337.19L64.46 337.66L63.50 339.08L63.02 341.44L63.02 342.85L63.50 345.21L64.46 346.63L65.89 347.10L66.85 347.10L68.28 346.63L69.24 345.21L69.72 342.85L69.72 341.44L69.24 339.08L68.28 337.66L66.85 337.19L65.89 337.19" fill="none" stroke="#000" stroke-width="1.03" stroke-linecap="round" stroke-linejoin="round"/>
<path d="M51.55 370.09L50.12 370.56L49.16 371.98L48.68 374.34L48.68 375.75L49.16 378.11L50.12 379.53L51.55 380.00L52.51 380.00L53.94 379.53L54.90 378.11L55.38 375.75L55.38 374.34L54.90 371.98L53.94 370.56L52.51 370.09L51.55 370.09M59.20 379.06L58.72 379.53L59.20 380.00L59.68 379.53L59.20 379.06M65.41 370.09L63.98 370.56L63.50 371.50L63.50 372.45L63.98 373.39L64.94 373.86L66.85 374.34L68.28 374.81L69.24 375.75L69.72 376.70L69.72 378.11L69.24 379.06L68.76 379.53L67.33 380.00L65.41 380.00L63.98 379.53L63.50 379.06L63.02 378.11L63.02 376.70L63.50 375.75L64.46 374.81L65.89 374.34L67.80 373.86L68.76 373.39L69.24 372.45L69.24 371.50L68.76 370.56L67.33 370.09L65.41 370.09" fill="none" stroke="#000" stroke-width="1.03" stroke-linecap="round" stroke-linejoin="round"/>
<path d="M51.55 403.09L50.12 403.56L49.16 404.98L48.68 407.34L48.68 408.75L49.16 411.11L50.12 412.53L51.55 413.00L52.51 413.00L53.94 412.53L54.90 411.11L55.38 408.75L55.38 407.34L54.90 404.98L53.94 403.56L52.51 403.09L51.55 403.09M59.20 412.06L58.72 412.53L59.20 413.00L59.68 412.53L59.20 412.06M69.24 404.50L68.76 403.56L67.33 403.09L66.37 403.09L64.94 403.56L63.98 404.98L63.50 407.34L63.50 409.70L63.98 411.58L64.94 412.53L66.37 413.00L66.85 413.00L68.28 412.53L69.24 411.58L69.72 410.17L69.72 409.70L69.24 408.28L68.28 407.34L66.85 406.86L66.37 406.86L64.94 407.34L63.98 408.28L63.50 409.70" fill="none" stroke="#000" stroke-width="1.03" stroke-linecap="round" stroke-linejoin="round"/>
<path d="M24.60 361.20L23.66 362.16L23.19 363.59L23.19 365.50L23.66 366.94L24.60 367.89L25.55 367.89L26.49 367.42L26.96 366.94L27.44 365.98L28.38 363.11L28.85 362.16L29.32 361.68L30.27 361.20L31.68 361.20L32.63 362.16L33.10 363.59L33.10 365.50L32.63 366.94L31.68 367.89M27.91 352.60L26.96 353.55L26.49 354.51L26.49 355.94L26.96 356.90L27.91 357.86L29.32 358.33L30.27 358.33L31.68 357.86L32.63 356.90L33.10 355.94L33.10 354.51L32.63 353.55L31.68 352.60M26.49 343.99L33.10 343.99M27.91 343.99L26.96 344.95L26.49 345.91L26.49 347.34L26.96 348.30L27.91 349.25L29.32 349.73L30.27 349.73L31.68 349.25L32.63 348.30L33.10 347.34L33.10 345.91L32.63 344.95L31.68 343.99M23.19 340.17L33.10 340.17M23.19 336.82L23.66 336.35L23.19 335.87L22.72 336.35L23.19 336.82M26.49 336.35L33.10 336.35M26.49 332.52L33.10 332.52M28.38 332.52L26.96 331.09L26.49 330.13L26.49 328.70L26.96 327.74L28.38 327.26L33.10 327.26M26.49 318.18L34.04 318.18L35.46 318.66L35.93 319.14L36.40 320.09L36.40 321.53L35.93 322.48M27.91 318.18L26.96 319.14L26.49 320.09L26.49 321.53L26.96 322.48L27.91 323.44L29.32 323.92L30.27 323.92L31.68 323.44L32.63 322.48L33.10 321.53L33.10 320.09L32.63 319.14L31.68 318.18" fill="none" stroke="#000" stroke-width="1.03" stroke-linecap="round" stroke-linejoin="round"/>
<g fill="#0000ff" clip-path="url(#c3)"><circle cx="82.95" cy="260.20" r="1.38"/><circle cx="89.73" cy="260.20" r="1.38"/><circle cx="96.50" cy="260.20" r="1.38"/><circle cx="103.28" cy="260.20" r="1.38"/><circle cx="110.05" cy="260.20" r="1.38"/><circle cx="116.83" cy="262.18" r="1.38"/><circle cx="123.60" cy="269.79" r="1.38"/><circle cx="130.38" cy="281.26" r="1.38"/><circle cx="137.15" cy="292.81" r="1.38"/><circle cx="143.93" cy="302.89" r="1.38"/><circle cx="150.70" cy="311.00" r="1.38"/><circle cx="157.48" cy="318.27" r="1.38"/><circle cx="164.25" cy="323.94" r="1.38"/><circle cx="171.03" cy="329.32" r="1.38"/><circle cx="177.80" cy="335.07" r="1.38"/><circle cx="184.57" cy="339.85" r="1.38"/><circle cx="191.35" cy="344.49" r="1.38"/><circle cx="198.12" cy="348.58" r="1.38"/><circle cx="204.90" cy="352.91" r="1.38"/><circle cx="211.68" cy="356.54" r="1.38"/><circle cx="218.45" cy="360.02" r="1.38"/><circle cx="225.23" cy="363.31" r="1.38"/><circle cx="232.00" cy="366.40" r="1.38"/><circle cx="238.78" cy="369.59" r="1.38"/><circle cx="245.55" cy="372.22" r="1.38"/><circle cx="252.32" cy="374.87" r="1.38"/><circle cx="259.10" cy="377.33" r="1.38"/><circle cx="265.88" cy="379.59" r="1.38"/><circle cx="272.65" cy="381.72" r="1.38"/><circle cx="279.43" cy="383.91" r="1.38"/><circle cx="286.20" cy="385.70" r="1.38"/><circle cx="292.98" cy="387.42" r="1.38"/><circle cx="299.75" cy="389.20" r="1.38"/></g>
<g fill="#ff12b4"><circle cx="82.95" cy="301.70" r="1.38"/><circle cx="89.73" cy="301.70" r="1.38"/><circle cx="96.50" cy="301.70" r="1.38"/><circle cx="103.28" cy="301.70" r="1.38"/><circle cx="110.05" cy="301.70" r="1.38"/><circle cx="116.83" cy="302.19" r="1.38"/><circle cx="123.60" cy="304.47" r="1.38"/><circle cx="130.38" cy="307.74" r="1.38"/><circle cx="137.15" cy="311.08" r="1.38"/><circle cx="143.93" cy="313.77" r="1.38"/><circle cx="150.70" cy="315.90" r="1.38"/><circle cx="157.48" cy="317.79" r="1.38"/><circle cx="164.25" cy="319.31" r="1.38"/><circle cx="171.03" cy="320.51" r="1.38"/><circle cx="177.80" cy="322.02" r="1.38"/><circle cx="184.57" cy="323.11" r="1.38"/><circle cx="191.35" cy="324.22" r="1.38"/><circle cx="198.12" cy="325.12" r="1.38"/><circle cx="204.90" cy="326.23" r="1.38"/><circle cx="211.68" cy="327.21" r="1.38"/><circle cx="218.45" cy="328.19" r="1.38"/><circle cx="225.23" cy="328.80" r="1.38"/><circle cx="232.00" cy="329.40" r="1.38"/><circle cx="238.78" cy="330.00" r="1.38"/><circle cx="245.55" cy="330.70" r="1.38"/><circle cx="252.32" cy="331.10" r="1.38"/><circle cx="259.10" cy="331.61" r="1.38"/><circle cx="265.88" cy="332.30" r="1.38"/><circle cx="272.65" cy="332.70" r="1.38"/><circle cx="279.43" cy="333.20" r="1.38"/><circle cx="286.20" cy="333.50" r="1.38"/><circle cx="292.98" cy="333.80" r="1.38"/><circle cx="299.75" cy="334.20" r="1.38"/></g>
<path d="M82.70 264.00C85.58 264.00 95.62 263.98 100.00 264.00C104.38 264.02 106.83 263.97 109.00 264.10C111.17 264.23 111.68 264.37 113.00 264.80C114.32 265.23 115.47 265.32 116.90 266.70C118.33 268.08 120.08 270.72 121.60 273.10C123.12 275.48 124.20 277.78 126.00 281.00C127.80 284.22 130.67 289.25 132.40 292.40C134.13 295.55 134.82 296.97 136.40 299.90C137.98 302.83 139.92 306.62 141.90 310.00C143.88 313.38 146.32 317.20 148.30 320.20C150.28 323.20 151.68 325.30 153.80 328.00C155.92 330.70 158.35 333.60 161.00 336.40C163.65 339.20 166.92 342.15 169.70 344.80C172.48 347.45 175.05 349.93 177.70 352.30C180.35 354.67 182.95 356.92 185.60 359.00C188.25 361.08 190.53 362.60 193.60 364.80C196.67 367.00 200.43 369.72 204.00 372.20C207.57 374.68 212.28 377.93 215.00 379.70C217.72 381.47 218.83 381.92 220.30 382.80C221.77 383.68 222.63 384.32 223.80 385.00C224.97 385.68 226.13 386.25 227.30 386.90C228.47 387.55 229.62 388.27 230.80 388.90C231.98 389.53 233.22 390.10 234.40 390.70C235.58 391.30 236.72 391.92 237.90 392.50C239.08 393.08 240.32 393.62 241.50 394.20C242.68 394.78 243.80 395.42 245.00 396.00C246.20 396.58 247.47 397.12 248.70 397.70C249.93 398.28 251.18 398.95 252.40 399.50C253.62 400.05 254.78 400.47 256.00 401.00C257.22 401.53 258.47 402.15 259.70 402.70C260.93 403.25 262.18 403.77 263.40 404.30C264.62 404.83 265.75 405.38 267.00 405.90C268.25 406.42 269.63 406.91 270.90 407.40C272.17 407.89 273.37 408.37 274.60 408.85C275.83 409.33 277.05 409.84 278.30 410.30C279.55 410.76 280.85 411.17 282.10 411.60C283.35 412.03 284.55 412.47 285.80 412.90C287.05 413.33 288.33 413.77 289.60 414.20C290.87 414.63 292.13 415.07 293.40 415.50C294.67 415.93 295.92 416.40 297.20 416.80C298.48 417.20 300.45 417.72 301.10 417.90" fill="none" stroke="#0000ff" stroke-width="1.42" stroke-dasharray="1.6 2.35" stroke-dashoffset="0.00" clip-path="url(#c3)"/>
<path d="M82.70 310.90C85.58 310.90 95.45 310.88 100.00 310.90C104.55 310.92 107.18 310.82 110.00 311.00C112.82 311.18 114.97 311.57 116.90 312.00C118.83 312.43 119.42 312.72 121.60 313.60C123.78 314.48 127.02 315.98 130.00 317.30C132.98 318.62 136.32 320.17 139.50 321.50C142.68 322.83 145.92 324.18 149.10 325.30C152.28 326.42 155.42 327.27 158.60 328.20C161.78 329.13 165.02 330.07 168.20 330.90C171.38 331.73 174.53 332.47 177.70 333.20C180.87 333.93 184.02 334.60 187.20 335.30C190.38 336.00 193.62 336.68 196.80 337.40C199.98 338.12 203.12 338.87 206.30 339.60C209.48 340.33 211.80 340.85 215.90 341.80C220.00 342.75 225.75 344.17 230.90 345.30C236.05 346.43 241.50 347.53 246.80 348.60C252.10 349.67 257.40 350.72 262.70 351.70C268.00 352.68 273.30 353.58 278.60 354.50C283.90 355.42 290.67 356.53 294.50 357.20C298.33 357.87 300.42 358.28 301.60 358.50" fill="none" stroke="#ff12b4" stroke-width="1.42" stroke-dasharray="1.6 2.35" stroke-dashoffset="0.00" clip-path="url(#c3)"/>
<path d="M104.13 409.74L104.13 415.20M104.13 410.91L103.33 410.13L102.52 409.74L101.32 409.74L100.51 410.13L99.71 410.91L99.31 412.08L99.31 412.86L99.71 414.03L100.51 414.81L101.32 415.20L102.52 415.20L103.33 414.81L104.13 414.03M107.35 407.01L107.35 415.20M107.35 410.91L108.15 410.13L108.95 409.74L110.16 409.74L110.96 410.13L111.77 410.91L112.17 412.08L112.17 412.86L111.77 414.03L110.96 414.81L110.16 415.20L108.95 415.20L108.15 414.81L107.35 414.03M119.00 410.91L118.60 410.13L117.40 409.74L116.19 409.74L114.98 410.13L114.58 410.91L114.98 411.69L115.79 412.08L117.80 412.47L118.60 412.86L119.00 413.64L119.00 414.03L118.60 414.81L117.40 415.20L116.19 415.20L114.98 414.81L114.58 414.03M124.63 405.45L123.83 406.23L123.02 407.40L122.22 408.96L121.82 410.91L121.82 412.47L122.22 414.42L123.02 415.98L123.83 417.15L124.63 417.93M127.45 407.01L127.45 415.20M127.45 407.01L131.06 407.01L132.27 407.40L132.67 407.79L133.07 408.57L133.07 409.35L132.67 410.13L132.27 410.52L131.06 410.91M127.45 410.91L131.06 410.91L132.27 411.30L132.67 411.69L133.07 412.47L133.07 413.64L132.67 414.42L132.27 414.81L131.06 415.20L127.45 415.20M135.49 405.45L136.29 406.23L137.09 407.40L137.90 408.96L138.30 410.91L138.30 412.47L137.90 414.42L137.09 415.98L136.29 417.15L135.49 417.93M147.95 410.52L155.18 410.52M147.95 412.86L155.18 412.86M164.83 405.45L164.83 417.93M165.23 405.45L165.23 417.93M164.83 405.45L167.65 405.45M164.83 417.93L167.65 417.93M171.26 408.57L172.07 408.18L173.27 407.01L173.27 415.20M180.51 407.01L179.30 407.40L178.50 408.57L178.10 410.52L178.10 411.69L178.50 413.64L179.30 414.81L180.51 415.20L181.31 415.20L182.52 414.81L183.32 413.64L183.73 411.69L183.73 410.52L183.32 408.57L182.52 407.40L181.31 407.01L180.51 407.01M188.55 407.01L187.34 407.40L186.54 408.57L186.14 410.52L186.14 411.69L186.54 413.64L187.34 414.81L188.55 415.20L189.35 415.20L190.56 414.81L191.36 413.64L191.77 411.69L191.77 410.52L191.36 408.57L190.56 407.40L189.35 407.01L188.55 407.01M195.38 414.81L194.98 415.20L194.58 414.81L194.98 414.42L195.38 414.81L195.38 415.59L194.98 416.37L194.58 416.76M209.45 407.01L205.43 407.01L205.03 410.52L205.43 410.13L206.64 409.74L207.85 409.74L209.05 410.13L209.86 410.91L210.26 412.08L210.26 412.86L209.86 414.03L209.05 414.81L207.85 415.20L206.64 415.20L205.43 414.81L205.03 414.42L204.63 413.64M215.08 407.01L213.88 407.40L213.07 408.57L212.67 410.52L212.67 411.69L213.07 413.64L213.88 414.81L215.08 415.20L215.89 415.20L217.09 414.81L217.90 413.64L218.30 411.69L218.30 410.52L217.90 408.57L217.09 407.40L215.89 407.01L215.08 407.01M223.12 407.01L221.92 407.40L221.11 408.57L220.71 410.52L220.71 411.69L221.11 413.64L221.92 414.81L223.12 415.20L223.93 415.20L225.13 414.81L225.94 413.64L226.34 411.69L226.34 410.52L225.94 408.57L225.13 407.40L223.93 407.01L223.12 407.01M231.16 405.45L231.16 417.93M231.56 405.45L231.56 417.93M228.75 405.45L231.56 405.45M228.75 417.93L231.56 417.93M246.84 408.96L246.44 408.18L245.63 407.40L244.83 407.01L243.22 407.01L242.42 407.40L241.61 408.18L241.21 408.96L240.81 410.13L240.81 412.08L241.21 413.25L241.61 414.03L242.42 414.81L243.22 415.20L244.83 415.20L245.63 414.81L246.44 414.03L246.84 413.25L246.84 412.08M244.83 412.08L246.84 412.08" fill="none" stroke="#000" stroke-width="1.05" stroke-linecap="round" stroke-linejoin="round"/>
<path d="M414.89 423.70V421.90M414.89 260.10V261.90M426.28 423.70V421.90M426.28 260.10V261.90M437.67 423.70V421.90M437.67 260.10V261.90M449.06 423.70V420.05M449.06 260.10V263.75M460.45 423.70V421.90M460.45 260.10V261.90M471.84 423.70V421.90M471.84 260.10V261.90M483.23 423.70V421.90M483.23 260.10V261.90M494.62 423.70V420.05M494.62 260.10V263.75M506.01 423.70V421.90M506.01 260.10V261.90M517.40 423.70V421.90M517.40 260.10V261.90M528.79 423.70V421.90M528.79 260.10V261.90M540.18 423.70V420.05M540.18 260.10V263.75M551.57 423.70V421.90M551.57 260.10V261.90M562.96 423.70V421.90M562.96 260.10V261.90M574.35 423.70V421.90M574.35 260.10V261.90M585.74 423.70V420.05M585.74 260.10V263.75M597.13 423.70V421.90M597.13 260.10V261.90M608.52 423.70V421.90M608.52 260.10V261.90M619.91 423.70V421.90M619.91 260.10V261.90M403.50 292.82H408.10M631.30 292.82H626.70M403.50 325.54H408.10M631.30 325.54H626.70M403.50 358.26H408.10M631.30 358.26H626.70M403.50 390.98H408.10M631.30 390.98H626.70" fill="none" stroke="#000" stroke-width="1.75"/>
<path d="M404.75 260.10V423.70M630.05 260.10V423.70" fill="none" stroke="#000" stroke-width="2.50" stroke-dasharray="1.169 1.169" stroke-dashoffset="0.584"/>
<rect x="403.50" y="260.10" width="227.80" height="163.60" fill="none" stroke="#000" stroke-width="2.00" stroke-linejoin="round"/>
<path d="M403.50 260.10V423.70M631.30 260.10V423.70" fill="none" stroke="#000" stroke-width="2.10" stroke-linecap="round"/>
<path d="M402.52 436.19L401.09 436.66L400.13 438.08L399.65 440.44L399.65 441.85L400.13 444.21L401.09 445.63L402.52 446.10L403.48 446.10L404.91 445.63L405.87 444.21L406.35 441.85L406.35 440.44L405.87 438.08L404.91 436.66L403.48 436.19L402.52 436.19" fill="none" stroke="#000" stroke-width="1.03" stroke-linecap="round" stroke-linejoin="round"/>
<path d="M445.69 438.55L445.69 438.08L446.17 437.13L446.65 436.66L447.60 436.19L449.52 436.19L450.47 436.66L450.95 437.13L451.43 438.08L451.43 439.02L450.95 439.96L449.99 441.38L445.21 446.10L451.91 446.10" fill="none" stroke="#000" stroke-width="1.03" stroke-linecap="round" stroke-linejoin="round"/>
<path d="M495.55 436.19L490.77 442.80L497.94 442.80M495.55 436.19L495.55 446.10" fill="none" stroke="#000" stroke-width="1.03" stroke-linecap="round" stroke-linejoin="round"/>
<path d="M542.55 437.60L542.07 436.66L540.64 436.19L539.68 436.19L538.25 436.66L537.29 438.08L536.81 440.44L536.81 442.80L537.29 444.68L538.25 445.63L539.68 446.10L540.16 446.10L541.59 445.63L542.55 444.68L543.03 443.27L543.03 442.80L542.55 441.38L541.59 440.44L540.16 439.96L539.68 439.96L538.25 440.44L537.29 441.38L536.81 442.80" fill="none" stroke="#000" stroke-width="1.03" stroke-linecap="round" stroke-linejoin="round"/>
<path d="M584.28 436.19L582.85 436.66L582.37 437.60L582.37 438.55L582.85 439.49L583.81 439.96L585.72 440.44L587.15 440.91L588.11 441.85L588.59 442.80L588.59 444.21L588.11 445.16L587.63 445.63L586.20 446.10L584.28 446.10L582.85 445.63L582.37 445.16L581.89 444.21L581.89 442.80L582.37 441.85L583.33 440.91L584.76 440.44L586.67 439.96L587.63 439.49L588.11 438.55L588.11 437.60L587.63 436.66L586.20 436.19L584.28 436.19" fill="none" stroke="#000" stroke-width="1.03" stroke-linecap="round" stroke-linejoin="round"/>
<path d="M624.11 438.08L625.06 437.60L626.50 436.19L626.50 446.10M635.10 436.19L633.67 436.66L632.71 438.08L632.23 440.44L632.23 441.85L632.71 444.21L633.67 445.63L635.10 446.10L636.06 446.10L637.49 445.63L638.45 444.21L638.93 441.85L638.93 440.44L638.45 438.08L637.49 436.66L636.06 436.19L635.10 436.19" fill="none" stroke="#000" stroke-width="1.03" stroke-linecap="round" stroke-linejoin="round"/>
<path d="M483.44 454.29L483.44 464.20M483.44 454.29L489.65 454.29M483.44 459.01L487.26 459.01M491.09 454.29L493.48 464.20M495.87 454.29L493.48 464.20M495.87 454.29L498.26 464.20M500.65 454.29L498.26 464.20M503.52 454.29L503.52 464.20M510.21 454.29L510.21 464.20M503.52 459.01L510.21 459.01M514.03 454.29L514.03 464.20M514.03 454.29L517.86 464.20M521.68 454.29L517.86 464.20M521.68 454.29L521.68 464.20M533.15 452.40L533.15 467.50M533.63 452.40L533.63 467.50M533.15 452.40L536.50 452.40M533.15 467.50L536.50 467.50M539.84 454.29L539.84 457.59M543.67 454.29L543.67 457.59M549.88 452.40L549.88 467.50M550.36 452.40L550.36 467.50M547.01 452.40L550.36 452.40M547.01 467.50L550.36 467.50" fill="none" stroke="#000" stroke-width="1.03" stroke-linecap="round" stroke-linejoin="round"/>
<path d="M377.32 262.29L378.27 261.82L379.71 260.40L379.71 270.31M386.40 269.37L385.92 269.84L386.40 270.31L386.88 269.84L386.40 269.37M395.00 260.40L390.22 267.01L397.39 267.01M395.00 260.40L395.00 270.31" fill="none" stroke="#000" stroke-width="1.03" stroke-linecap="round" stroke-linejoin="round"/>
<path d="M377.32 290.70L378.27 290.22L379.71 288.81L379.71 298.72M386.40 297.78L385.92 298.25L386.40 298.72L386.88 298.25L386.40 297.78M391.18 288.81L396.44 288.81L393.57 292.58L395.00 292.58L395.96 293.06L396.44 293.53L396.92 294.94L396.92 295.89L396.44 297.30L395.48 298.25L394.05 298.72L392.61 298.72L391.18 298.25L390.70 297.78L390.22 296.83" fill="none" stroke="#000" stroke-width="1.03" stroke-linecap="round" stroke-linejoin="round"/>
<path d="M377.32 323.42L378.27 322.94L379.71 321.53L379.71 331.44M386.40 330.50L385.92 330.97L386.40 331.44L386.88 330.97L386.40 330.50M390.70 323.89L390.70 323.42L391.18 322.47L391.66 322.00L392.61 321.53L394.53 321.53L395.48 322.00L395.96 322.47L396.44 323.42L396.44 324.36L395.96 325.30L395.00 326.72L390.22 331.44L396.92 331.44" fill="none" stroke="#000" stroke-width="1.03" stroke-linecap="round" stroke-linejoin="round"/>
<path d="M377.32 356.14L378.27 355.66L379.71 354.25L379.71 364.16M386.40 363.22L385.92 363.69L386.40 364.16L386.88 363.69L386.40 363.22M391.66 356.14L392.61 355.66L394.05 354.25L394.05 364.16" fill="none" stroke="#000" stroke-width="1.03" stroke-linecap="round" stroke-linejoin="round"/>
<path d="M377.32 388.86L378.27 388.38L379.71 386.97L379.71 396.88M386.40 395.94L385.92 396.41L386.40 396.88L386.88 396.41L386.40 395.94M393.09 386.97L391.66 387.44L390.70 388.86L390.22 391.22L390.22 392.63L390.70 394.99L391.66 396.41L393.09 396.88L394.05 396.88L395.48 396.41L396.44 394.99L396.92 392.63L396.92 391.22L396.44 388.86L395.48 387.44L394.05 386.97L393.09 386.97" fill="none" stroke="#000" stroke-width="1.03" stroke-linecap="round" stroke-linejoin="round"/>
<path d="M378.75 414.09L377.32 414.56L376.36 415.98L375.88 418.34L375.88 419.75L376.36 422.11L377.32 423.53L378.75 424.00L379.71 424.00L381.14 423.53L382.10 422.11L382.58 419.75L382.58 418.34L382.10 415.98L381.14 414.56L379.71 414.09L378.75 414.09M386.40 423.06L385.92 423.53L386.40 424.00L386.88 423.53L386.40 423.06M396.44 417.39L395.96 418.81L395.00 419.75L393.57 420.22L393.09 420.22L391.66 419.75L390.70 418.81L390.22 417.39L390.22 416.92L390.70 415.50L391.66 414.56L393.09 414.09L393.57 414.09L395.00 414.56L395.96 415.50L396.44 417.39L396.44 419.75L395.96 422.11L395.00 423.53L393.57 424.00L392.61 424.00L391.18 423.53L390.70 422.58" fill="none" stroke="#000" stroke-width="1.03" stroke-linecap="round" stroke-linejoin="round"/>
<path d="M351.80 361.20L350.86 362.16L350.39 363.59L350.39 365.50L350.86 366.94L351.80 367.89L352.75 367.89L353.69 367.42L354.16 366.94L354.64 365.98L355.58 363.11L356.05 362.16L356.52 361.68L357.47 361.20L358.88 361.20L359.83 362.16L360.30 363.59L360.30 365.50L359.83 366.94L358.88 367.89M355.11 352.60L354.16 353.55L353.69 354.51L353.69 355.94L354.16 356.90L355.11 357.86L356.52 358.33L357.47 358.33L358.88 357.86L359.83 356.90L360.30 355.94L360.30 354.51L359.83 353.55L358.88 352.60M353.69 343.99L360.30 343.99M355.11 343.99L354.16 344.95L353.69 345.91L353.69 347.34L354.16 348.30L355.11 349.25L356.52 349.73L357.47 349.73L358.88 349.25L359.83 348.30L360.30 347.34L360.30 345.91L359.83 344.95L358.88 343.99M350.39 340.17L360.30 340.17M350.39 336.82L350.86 336.35L350.39 335.87L349.92 336.35L350.39 336.82M353.69 336.35L360.30 336.35M353.69 332.52L360.30 332.52M355.58 332.52L354.16 331.09L353.69 330.13L353.69 328.70L354.16 327.74L355.58 327.26L360.30 327.26M353.69 318.18L361.24 318.18L362.66 318.66L363.13 319.14L363.60 320.09L363.60 321.53L363.13 322.48M355.11 318.18L354.16 319.14L353.69 320.09L353.69 321.53L354.16 322.48L355.11 323.44L356.52 323.92L357.47 323.92L358.88 323.44L359.83 322.48L360.30 321.53L360.30 320.09L359.83 319.14L358.88 318.18" fill="none" stroke="#000" stroke-width="1.03" stroke-linecap="round" stroke-linejoin="round"/>
<g fill="#ff12b4"><circle cx="410.15" cy="276.60" r="1.38"/><circle cx="416.92" cy="276.60" r="1.38"/><circle cx="423.70" cy="276.60" r="1.38"/><circle cx="430.47" cy="276.60" r="1.38"/><circle cx="437.25" cy="276.81" r="1.38"/><circle cx="444.02" cy="277.41" r="1.38"/><circle cx="450.80" cy="279.40" r="1.38"/><circle cx="457.57" cy="282.74" r="1.38"/><circle cx="464.35" cy="286.28" r="1.38"/><circle cx="471.12" cy="289.76" r="1.38"/><circle cx="477.90" cy="292.98" r="1.38"/><circle cx="484.67" cy="295.77" r="1.38"/><circle cx="491.45" cy="298.57" r="1.38"/><circle cx="498.22" cy="301.60" r="1.38"/><circle cx="505.00" cy="304.70" r="1.38"/><circle cx="511.77" cy="307.93" r="1.38"/><circle cx="518.55" cy="311.12" r="1.38"/><circle cx="525.33" cy="314.26" r="1.38"/><circle cx="532.10" cy="317.55" r="1.38"/><circle cx="538.88" cy="320.93" r="1.38"/><circle cx="545.65" cy="324.07" r="1.38"/><circle cx="552.42" cy="327.36" r="1.38"/><circle cx="559.20" cy="330.60" r="1.38"/><circle cx="565.98" cy="334.04" r="1.38"/><circle cx="572.75" cy="337.42" r="1.38"/><circle cx="579.52" cy="340.76" r="1.38"/><circle cx="586.30" cy="344.25" r="1.38"/><circle cx="593.08" cy="347.78" r="1.38"/><circle cx="599.85" cy="351.07" r="1.38"/><circle cx="606.62" cy="354.26" r="1.38"/><circle cx="613.40" cy="357.70" r="1.38"/><circle cx="620.17" cy="360.98" r="1.38"/><circle cx="626.95" cy="364.20" r="1.38"/></g>
<path d="M431.43 401.84L431.43 407.30M431.43 403.01L430.63 402.23L429.82 401.84L428.62 401.84L427.81 402.23L427.01 403.01L426.61 404.18L426.61 404.96L427.01 406.13L427.81 406.91L428.62 407.30L429.82 407.30L430.63 406.91L431.43 406.13M434.65 399.11L434.65 407.30M434.65 403.01L435.45 402.23L436.25 401.84L437.46 401.84L438.26 402.23L439.07 403.01L439.47 404.18L439.47 404.96L439.07 406.13L438.26 406.91L437.46 407.30L436.25 407.30L435.45 406.91L434.65 406.13M446.30 403.01L445.90 402.23L444.70 401.84L443.49 401.84L442.28 402.23L441.88 403.01L442.28 403.79L443.09 404.18L445.10 404.57L445.90 404.96L446.30 405.74L446.30 406.13L445.90 406.91L444.70 407.30L443.49 407.30L442.28 406.91L441.88 406.13M451.93 397.55L451.13 398.33L450.32 399.50L449.52 401.06L449.12 403.01L449.12 404.57L449.52 406.52L450.32 408.08L451.13 409.25L451.93 410.03M454.75 399.11L454.75 407.30M454.75 399.11L458.36 399.11L459.57 399.50L459.97 399.89L460.37 400.67L460.37 401.45L459.97 402.23L459.57 402.62L458.36 403.01M454.75 403.01L458.36 403.01L459.57 403.40L459.97 403.79L460.37 404.57L460.37 405.74L459.97 406.52L459.57 406.91L458.36 407.30L454.75 407.30M462.79 397.55L463.59 398.33L464.39 399.50L465.20 401.06L465.60 403.01L465.60 404.57L465.20 406.52L464.39 408.08L463.59 409.25L462.79 410.03M479.67 401.84L479.67 408.08L479.27 409.25L478.87 409.64L478.06 410.03L476.86 410.03L476.05 409.64M479.67 403.01L478.87 402.23L478.06 401.84L476.86 401.84L476.05 402.23L475.25 403.01L474.85 404.18L474.85 404.96L475.25 406.13L476.05 406.91L476.86 407.30L478.06 407.30L478.87 406.91L479.67 406.13M483.29 399.11L483.29 405.74L483.69 406.91L484.49 407.30L485.30 407.30M482.08 401.84L484.90 401.84M498.56 399.11L494.54 399.11L494.14 402.62L494.54 402.23L495.75 401.84L496.96 401.84L498.16 402.23L498.97 403.01L499.37 404.18L499.37 404.96L498.97 406.13L498.16 406.91L496.96 407.30L495.75 407.30L494.54 406.91L494.14 406.52L493.74 405.74M504.19 399.11L502.99 399.50L502.18 400.67L501.78 402.62L501.78 403.79L502.18 405.74L502.99 406.91L504.19 407.30L505.00 407.30L506.20 406.91L507.01 405.74L507.41 403.79L507.41 402.62L507.01 400.67L506.20 399.50L505.00 399.11L504.19 399.11M512.23 399.11L511.03 399.50L510.22 400.67L509.82 402.62L509.82 403.79L510.22 405.74L511.03 406.91L512.23 407.30L513.04 407.30L514.24 406.91L515.05 405.74L515.45 403.79L515.45 402.62L515.05 400.67L514.24 399.50L513.04 399.11L512.23 399.11M530.32 401.06L529.92 400.28L529.12 399.50L528.31 399.11L526.70 399.11L525.90 399.50L525.10 400.28L524.69 401.06L524.29 402.23L524.29 404.18L524.69 405.35L525.10 406.13L525.90 406.91L526.70 407.30L528.31 407.30L529.12 406.91L529.92 406.13L530.32 405.35L530.32 404.18M528.31 404.18L530.32 404.18" fill="none" stroke="#000" stroke-width="1.05" stroke-linecap="round" stroke-linejoin="round"/>
</svg>
</body></html>
